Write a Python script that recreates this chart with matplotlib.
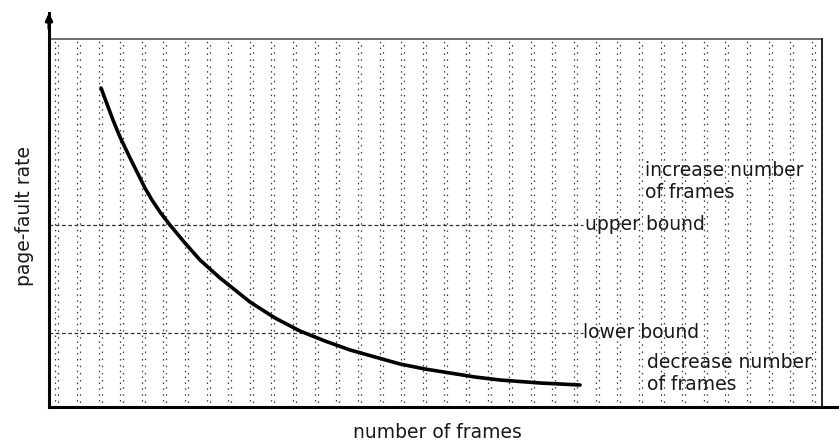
import matplotlib
matplotlib.use("Agg")
import matplotlib.pyplot as plt
import numpy as np

# Page-fault rate versus number of allocated frames (arbitrary units, 0-100)
frames = [6.62, 7.38, 8.14, 9.03, 10.31, 12.21, 13.10, 14.12, 15.39, 17.30,
          19.21, 21.76, 25.57, 28.75, 31.93, 35.11, 38.30, 41.48, 44.66,
          47.84, 51.02, 54.20, 57.38, 62.47, 67.56]
fault_rate = [80.96, 76.90, 72.84, 68.53, 63.20, 55.58, 52.54, 49.49, 46.19,
              41.62, 37.31, 32.74, 26.65, 22.59, 19.29, 16.75, 14.47, 12.69,
              10.91, 9.64, 8.63, 7.61, 6.85, 6.09, 5.58]

upper_bound = 46.2
lower_bound = 18.8
bound_end = 67.9

plt.rcParams['font.family'] = ['DejaVu Sans']

W, H = 839, 442
fig = plt.figure(figsize=(W / 100, H / 100), dpi=100)
ax = fig.add_axes([49 / W, (H - 407) / H, (839 - 49) / W, (407 - 13) / H])
ax.set_xlim(0, 100.5)
ax.set_ylim(0, 100)
ax.set_xticks([])
ax.set_yticks([])
for side in ("top", "right"):
    ax.spines[side].set_visible(False)
ax.spines["left"].set_linewidth(2.2)
ax.spines["bottom"].set_linewidth(2.2)

# stippled background panel
panel_right = 98.3
panel_top = 93.4
stripe_x = np.arange(0.8, panel_right - 0.5, 2.75)
ax.vlines(stripe_x, 0, panel_top, colors="#3a3a3a", linewidth=0.9,
          linestyles=(0, (1.2, 3.5)))
ax.vlines(stripe_x + 0.38, 0, panel_top, colors="#3a3a3a", linewidth=0.9,
          linestyles=(2, (1.2, 4.5)))
ax.plot([0.1, panel_right], [panel_top, panel_top], color="#555555", lw=1.2)
ax.plot([panel_right, panel_right], [0, panel_top], color="#222222", lw=1.4)

# y-axis arrow
ax.annotate("", xy=(0, 100), xytext=(0, 96),
            arrowprops=dict(arrowstyle="-|>", lw=2.2, color="black",
                            mutation_scale=10, shrinkA=0, shrinkB=0),
            annotation_clip=False)

# bounds
ax.plot([0, bound_end], [upper_bound, upper_bound], color="#333333", lw=0.9,
        linestyle=(0, (3, 2)))
ax.plot([0, bound_end], [lower_bound, lower_bound], color="#333333", lw=0.9,
        linestyle=(0, (3, 2)))

# page-fault curve
ax.plot(frames, fault_rate, color="black", lw=2.6, solid_capstyle="round",
        solid_joinstyle="round")

fs = 13.5
tc = "#1a1a1a"


def px(x, y, s, **kw):
    fig.text(x / W, 1 - y / H, s, fontsize=fs, color=tc, **kw)


px(585, 225, "upper bound", va="center", ha="left")
px(583, 333, "lower bound", va="center", ha="left")
px(645, 170, "increase number", va="center", ha="left")
px(645, 193, "of frames", va="center", ha="left")
px(647, 362, "decrease number", va="center", ha="left")
px(647, 385, "of frames", va="center", ha="left")

px(25, 216, "page-fault rate", rotation=90, ha="center", va="center")
px(437, 433, "number of frames", ha="center", va="center")

fig.savefig("out.png", dpi=100)
